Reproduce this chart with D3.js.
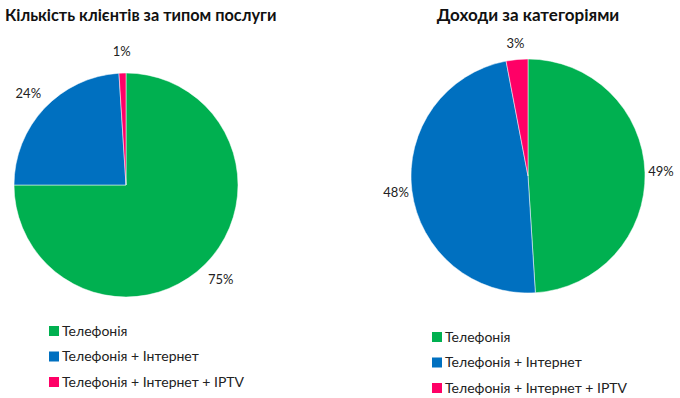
<!DOCTYPE html>
<html>
<head>
<meta charset="utf-8">
<script src="https://cdn.jsdelivr.net/npm/d3@7"></script>
<style>
  body { margin: 0; background: #fff; }
  text { font-family: Lato, "Open Sans", sans-serif; }
</style>
</head>
<body>
<div id="chart"></div>
<script>
// Data
const categories = ["Телефонія", "Телефонія + Інтернет", "Телефонія + Інтернет + IPTV"];
const clientsValues = [75, 24, 1];
const incomeValues = [49, 48, 3];
const colors = ["#00b050", "#0070c0", "#ff0066"];

const svg = d3.select("#chart")
    .append("svg")
        .attr("width", 680)
        .attr("height", 398);

const color = d3.scaleOrdinal().domain(categories).range(colors);

function drawPie(opts) {
    const g = svg.append("g")
        .attr("transform", `translate(${opts.cx}, ${opts.cy})`);

    const pie = d3.pie().sort(null).value(d => d.value);
    const data = pie(categories.map((c, i) => ({cat: c, value: opts.values[i]})));

    const arc = d3.arc().innerRadius(0).outerRadius(opts.r);
    const labelArc = d3.arc().innerRadius(opts.r + opts.lab).outerRadius(opts.r + opts.lab);

    g.selectAll(".slice")
        .data(data)
        .enter()
        .append("path")
        .attr("class", "slice")
        .attr("d", arc)
        .attr("fill", d => color(d.data.cat))
        .attr("stroke", "#fff")
        .attr("stroke-width", 0.5);

    g.selectAll(".lbl")
        .data(data)
        .enter()
        .append("text")
        .attr("class", "lbl")
        .attr("transform", d => `translate(${labelArc.centroid(d)})`)
        .attr("text-anchor", "middle")
        .attr("dy", "0.35em")
        .attr("font-size", 13)
        .attr("fill", "#222")
        .text(d => d.data.value + "%");

    // title
    svg.append("text")
        .attr("x", opts.tx)
        .attr("y", 21)
        .attr("text-anchor", opts.anchor)
        .attr("font-size", opts.tsize)
        .attr("font-weight", "bold")
        .attr("fill", "#111")
        .text(opts.title);

    // legend
    const leg = svg.append("g")
        .attr("transform", `translate(${opts.lx}, ${opts.ly})`);
    const items = leg.selectAll(".item")
        .data(categories)
        .enter()
        .append("g")
        .attr("transform", (d, i) => `translate(0, ${i * opts.lstep})`);
    items.append("rect")
        .attr("x", 0).attr("y", -5)
        .attr("width", 10).attr("height", 10)
        .attr("fill", d => color(d));
    items.append("text")
        .attr("x", 13)
        .attr("dy", "0.35em")
        .attr("font-size", 14)
        .attr("fill", "#222")
        .text(d => d);
}

drawPie({
    values: clientsValues, cx: 126, cy: 185, r: 112, lab: 22,
    title: "Кількість клієнтів за типом послуги", tx: 5, anchor: "start", tsize: 16.3,
    lx: 49, ly: 331, lstep: 25.5
});

drawPie({
    values: incomeValues, cx: 528, cy: 176, r: 117, lab: 16,
    title: "Доходи за категоріями", tx: 528, anchor: "middle", tsize: 17,
    lx: 432, ly: 337, lstep: 25.5
});
</script>
</body>
</html>
